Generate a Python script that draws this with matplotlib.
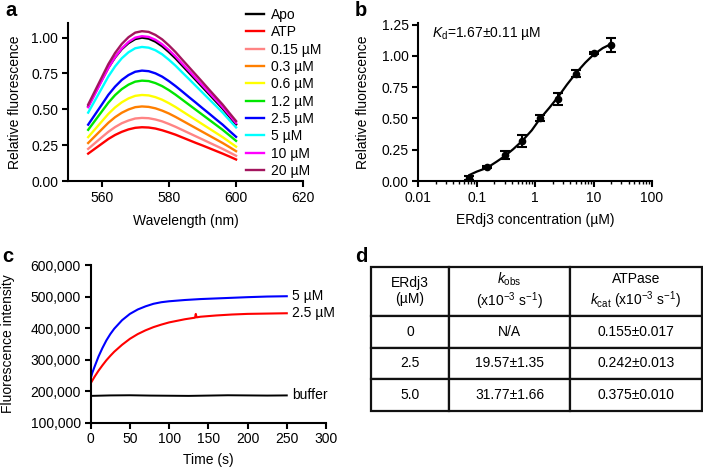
import matplotlib
matplotlib.use('Agg')
import matplotlib.pyplot as plt
from matplotlib.ticker import FuncFormatter, FixedLocator, NullFormatter

plt.rcParams['font.family'] = ['Liberation Sans', 'DejaVu Sans']
plt.rcParams['mathtext.fontset'] = 'custom'
plt.rcParams['mathtext.rm'] = 'Liberation Sans'
plt.rcParams['mathtext.it'] = 'Liberation Sans:italic'
plt.rcParams['mathtext.bf'] = 'Liberation Sans:bold'
plt.rcParams['font.size'] = 10

# ---------------- Panel a data ----------------
wavelength = [556, 558, 560, 562, 564, 566, 568, 570, 572, 574, 576, 578,
              580, 582, 584, 586, 588, 590, 592, 594, 596, 598, 600]
spec_labels = ['Apo', 'ATP', '0.15 µM', '0.3 µM', '0.6 µM', '1.2 µM',
               '2.5 µM', '5 µM', '10 µM', '20 µM']
spec_colors = ['#000000', '#ff0000', '#ff8484', '#ff7f00', '#ffff00',
               '#00e600', '#0000ff', '#00ffff', '#ff00ff', '#a3155e']
apo = [0.520, 0.612, 0.703, 0.790, 0.862, 0.920, 0.962, 0.990, 1.000, 0.993, 0.972, 0.940,
       0.900, 0.855, 0.805, 0.755, 0.705, 0.655, 0.605, 0.555, 0.505, 0.450, 0.395]
atp = [0.191, 0.225, 0.259, 0.293, 0.321, 0.343, 0.360, 0.371, 0.375, 0.373, 0.366, 0.354,
       0.339, 0.323, 0.304, 0.285, 0.266, 0.248, 0.229, 0.210, 0.191, 0.171, 0.150]
c015 = [0.224, 0.264, 0.304, 0.343, 0.376, 0.403, 0.422, 0.436, 0.440, 0.438, 0.429, 0.416,
        0.398, 0.378, 0.356, 0.334, 0.312, 0.290, 0.268, 0.246, 0.224, 0.200, 0.176]
c03 = [0.265, 0.312, 0.359, 0.406, 0.445, 0.476, 0.499, 0.515, 0.520, 0.517, 0.507, 0.491,
       0.471, 0.447, 0.421, 0.395, 0.369, 0.343, 0.317, 0.291, 0.265, 0.237, 0.208]
c06 = [0.306, 0.360, 0.414, 0.468, 0.513, 0.549, 0.576, 0.594, 0.600, 0.597, 0.585, 0.567,
       0.543, 0.516, 0.486, 0.456, 0.426, 0.396, 0.366, 0.336, 0.306, 0.273, 0.240]
c12 = [0.357, 0.420, 0.483, 0.546, 0.599, 0.641, 0.672, 0.693, 0.700, 0.697, 0.683, 0.662,
       0.634, 0.602, 0.567, 0.532, 0.497, 0.462, 0.427, 0.392, 0.357, 0.319, 0.280]
c25 = [0.393, 0.462, 0.531, 0.601, 0.658, 0.705, 0.739, 0.762, 0.770, 0.766, 0.751, 0.728,
       0.697, 0.662, 0.624, 0.585, 0.547, 0.508, 0.470, 0.431, 0.393, 0.350, 0.308]
c5 = [0.477, 0.561, 0.645, 0.729, 0.799, 0.856, 0.898, 0.926, 0.935, 0.930, 0.912, 0.884,
      0.846, 0.804, 0.757, 0.711, 0.664, 0.617, 0.570, 0.524, 0.477, 0.425, 0.374]
c10 = [0.515, 0.606, 0.697, 0.788, 0.864, 0.924, 0.970, 1.000, 1.010, 1.005, 0.985, 0.954,
       0.914, 0.869, 0.818, 0.768, 0.717, 0.667, 0.616, 0.566, 0.515, 0.460, 0.404]
c20 = [0.533, 0.627, 0.721, 0.815, 0.893, 0.956, 1.003, 1.035, 1.045, 1.040, 1.019, 0.988,
       0.946, 0.899, 0.846, 0.794, 0.742, 0.690, 0.637, 0.585, 0.533, 0.475, 0.418]
spectra = [apo, atp, c015, c03, c06, c12, c25, c5, c10, c20]

# ---------------- Panel b data ----------------
conc_pts = [0.075, 0.15, 0.3, 0.6, 1.2, 2.5, 5, 10, 20]
rel_pts = [0.026, 0.114, 0.206, 0.322, 0.503, 0.655, 0.857, 1.020, 1.087]
rel_err = [0.015, 0.008, 0.033, 0.048, 0.027, 0.045, 0.030, 0.008, 0.058]
fit_conc = [0.075, 0.1, 0.15, 0.22, 0.3, 0.42, 0.6, 0.875, 1.2, 1.75, 2.5, 3.5,
            5, 7.2, 10, 14.4, 20]
fit_rel = [0.048, 0.075, 0.105, 0.155, 0.198, 0.254, 0.320, 0.405, 0.495, 0.585,
           0.675, 0.770, 0.862, 0.945, 1.010, 1.062, 1.095]
kd_text = r'$K_\mathrm{d}$=1.67±0.11 µM'

# ---------------- Panel c data ----------------
t_blue = [0, 2, 5, 10, 15, 20, 25, 30, 40, 50, 60, 70, 80, 90, 100, 120, 140,
          160, 180, 200, 225, 250]
f_blue = [240000, 258000, 278000, 310000, 337000, 361000, 381000, 398000, 425000,
          445000, 459000, 469000, 477000, 482000, 485000, 489000, 492000, 494000,
          496000, 498000, 500000, 501000]
t_red = [0, 5, 10, 15, 20, 25, 30, 40, 50, 60, 70, 80, 90, 100, 120, 133, 134,
         135, 140, 160, 180, 200, 225, 250]
f_red = [225000, 246000, 265000, 282000, 298000, 312000, 325000, 347000, 366000,
         381000, 393000, 403000, 411000, 418000, 428000, 433000, 445000, 434000,
         436000, 440000, 443000, 445000, 446000, 447000]
t_buf = [0, 25, 50, 75, 100, 125, 150, 175, 200, 225, 250]
f_buf = [185000, 186500, 187000, 186000, 185500, 185000, 186000, 187000, 186500,
         186000, 186500]
trace_labels = ['5 µM', '2.5 µM', 'buffer']

# ---------------- Panel d data ----------------
table_header = ['ERdj3\n(µM)',
                r'$k_\mathrm{obs}$' + '\n' + r'(x10$^{-3}$ s$^{-1}$)',
                'ATPase\n' + r'$k_\mathrm{cat}$ (x10$^{-3}$ s$^{-1}$)']
table_rows = [['0', 'N/A', '0.155±0.017'],
              ['2.5', '19.57±1.35', '0.242±0.013'],
              ['5.0', '31.77±1.66', '0.375±0.010']]

W, H = 703, 469
fig = plt.figure(figsize=(W / 100, H / 100), dpi=100)


def style(ax):
    for s in ('top', 'right'):
        ax.spines[s].set_visible(False)
    for s in ('left', 'bottom'):
        ax.spines[s].set_linewidth(1.5)
    ax.tick_params(which='major', direction='out', length=4.5, width=1.5,
                   labelsize=10, pad=2.5)


# ---- a ----
axa = fig.add_axes([68 / W, 1 - 181 / H, 235.3 / W, 157.7 / H])
for lab, col, vals in zip(spec_labels, spec_colors, spectra):
    axa.plot(wavelength, vals, color=col, lw=1.7, label=lab)
axa.set_xlim(550, 620)
axa.set_xticks([560, 580, 600, 620])
axa.set_ylim(0, 1.10)
axa.set_yticks([0, 0.25, 0.5, 0.75, 1.0])
axa.yaxis.set_major_formatter(FuncFormatter(lambda v, p: f'{v:.2f}'))
style(axa)
axa.set_xlabel('Wavelength (nm)', fontsize=10, labelpad=6.5)
axa.set_ylabel('Relative fluorescence', fontsize=10)
axa.yaxis.set_label_coords((22 - 68) / 235.3, 0.5)
axa.legend(loc='upper left', bbox_to_anchor=(246 / W, 1 - 8 / H),
           bbox_transform=fig.transFigure, frameon=False, handlelength=1.3,
           handletextpad=0.5, labelspacing=0.24, borderpad=0, borderaxespad=0,
           fontsize=10)

# ---- b ----
axb = fig.add_axes([418.3 / W, 1 - 181 / H, 233.7 / W, 157.7 / H])
axb.plot(fit_conc, fit_rel, color='black', lw=1.6)
axb.errorbar(conc_pts, rel_pts, yerr=rel_err, fmt='o', color='black', ms=4.5,
             elinewidth=1.5, capsize=3.5, capthick=1.5)
axb.set_xscale('log')
axb.set_xlim(0.01, 100)
axb.xaxis.set_major_locator(FixedLocator([0.01, 0.1, 1, 10, 100]))
axb.set_xticklabels(['0.01', '0.1', '1', '10', '100'])
minors = [m * d for d in (0.01, 0.1, 1, 10) for m in range(2, 10)]
axb.xaxis.set_minor_locator(FixedLocator(minors))
axb.xaxis.set_minor_formatter(NullFormatter())
axb.set_ylim(0, 1.26)
axb.set_yticks([0, 0.25, 0.5, 0.75, 1.0, 1.25])
axb.yaxis.set_major_formatter(FuncFormatter(lambda v, p: f'{v:.2f}'))
style(axb)
axb.tick_params(which='minor', direction='out', length=2.5, width=1)
axb.set_xlabel('ERdj3 concentration (µM)', fontsize=10, labelpad=6)
axb.set_ylabel('Relative fluorescence', fontsize=10)
axb.yaxis.set_label_coords((370 - 418.3) / 233.7, 0.5)
axb.text(0.057, 0.937, kd_text, transform=axb.transAxes, fontsize=10,
         va='center', ha='left')

# ---- c ----
axc = fig.add_axes([90.7 / W, 1 - 422.7 / H, 235.3 / W, 157.7 / H])
axc.plot(t_buf, f_buf, color='black', lw=1.4)
axc.plot(t_red, f_red, color='#ff0000', lw=1.5)
axc.plot(t_blue, f_blue, color='#0000ff', lw=1.5)
axc.set_xlim(0, 300)
axc.set_xticks([0, 50, 100, 150, 200, 250, 300])
axc.set_ylim(100000, 600000)
axc.set_yticks([100000, 200000, 300000, 400000, 500000, 600000])
axc.yaxis.set_major_formatter(FuncFormatter(lambda v, p: f'{int(v):,}'))
style(axc)
axc.set_xlabel('Time (s)', fontsize=10, labelpad=5)
axc.set_ylabel('Fluorescence intensity', fontsize=10)
axc.yaxis.set_label_coords((15 - 90.7) / 235.3, 0.5)
for lab, yv in zip(trace_labels, [f_blue[-1], f_red[-1], f_buf[-1]]):
    axc.text(257, yv, lab, fontsize=10, va='center', ha='left')

# ---- d ----
axd = fig.add_axes([370.7 / W, 1 - 411 / H, 331 / W, 144.3 / H])
axd.axis('off')
tbl = axd.table(cellText=table_rows, colLabels=table_header, cellLoc='center',
                colWidths=[78.6, 120.7, 131.7], bbox=[0, 0, 1, 1])
tbl.auto_set_font_size(False)
for (r, c), cell in tbl.get_celld().items():
    cell.set_linewidth(1.6)
    cell.set_edgecolor('#111111')
    cell.set_height(49.3 if r == 0 else 31.7)
    cell.get_text().set_fontsize(10)
    cell.set_clip_on(False)

# panel letters
for lab, x, y in [('a', 5, 10), ('b', 355, 10), ('c', 2, 256), ('d', 355, 256)]:
    fig.text(x / W, 1 - y / H, lab, fontsize=14.5, fontweight='bold',
             va='center', ha='left')

fig.savefig('out.png', dpi=100)
